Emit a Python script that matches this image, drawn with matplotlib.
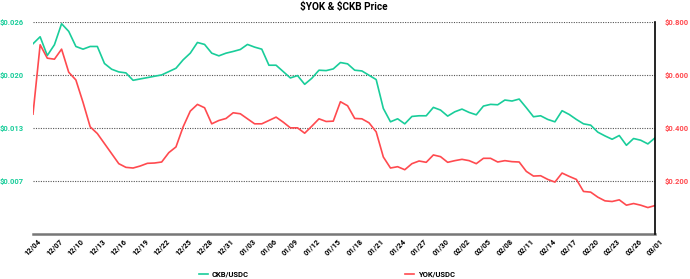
import matplotlib
matplotlib.use("Agg")
import matplotlib.pyplot as plt
import numpy as np

plt.rcParams['font.family'] = ['Roboto', 'DejaVu Sans']

tick_labels = ["12/04", "12/07", "12/10", "12/13", "12/16", "12/19", "12/22", "12/25", "12/28", "12/31",
               "01/03", "01/06", "01/09", "01/12", "01/15", "01/18", "01/21", "01/24", "01/27", "01/30",
               "02/02", "02/05", "02/08", "02/11", "02/14", "02/17", "02/20", "02/23", "02/26", "03/01"]

ckb_usdc = [0.02333, 0.02419, 0.02189, 0.02321, 0.02579, 0.02485, 0.02300, 0.02267, 0.02300, 0.02300,
            0.02091, 0.02021, 0.01988, 0.01976, 0.01885, 0.01902, 0.01918, 0.01935, 0.01951, 0.01992,
            0.02033, 0.02136, 0.02218, 0.02349, 0.02325, 0.02218, 0.02185, 0.02218, 0.02239, 0.02263,
            0.02325, 0.02292, 0.02267, 0.02070, 0.02070, 0.01992, 0.01914, 0.01943, 0.01836, 0.01910,
            0.02009, 0.02004, 0.02025, 0.02103, 0.02087, 0.02009, 0.02000, 0.01947, 0.01894, 0.01540,
            0.01376, 0.01413, 0.01351, 0.01442, 0.01450, 0.01450, 0.01553, 0.01520, 0.01446, 0.01499,
            0.01532, 0.01491, 0.01462, 0.01569, 0.01590, 0.01585, 0.01643, 0.01631, 0.01655, 0.01549,
            0.01438, 0.01450, 0.01405, 0.01376, 0.01512, 0.01466, 0.01405, 0.01351, 0.01335, 0.01249,
            0.01203, 0.01162, 0.01208, 0.01088, 0.01171, 0.01150, 0.01105, 0.01179]

yok_usdc = [0.4524, 0.7141, 0.6635, 0.6597, 0.6976, 0.6104, 0.5813, 0.4967, 0.4044, 0.3791,
            0.3412, 0.3033, 0.2654, 0.2515, 0.2490, 0.2566, 0.2667, 0.2679, 0.2717, 0.3071,
            0.3286, 0.4044, 0.4638, 0.4891, 0.4764, 0.4158, 0.4284, 0.4360, 0.4575, 0.4537,
            0.4347, 0.4158, 0.4158, 0.4284, 0.4411, 0.4221, 0.4006, 0.4006, 0.3804, 0.4069,
            0.4347, 0.4246, 0.4259, 0.4992, 0.4840, 0.4360, 0.4347, 0.4196, 0.3855, 0.2907,
            0.2490, 0.2540, 0.2426, 0.2654, 0.2755, 0.2705, 0.2983, 0.2919, 0.2705, 0.2768,
            0.2818, 0.2768, 0.2654, 0.2856, 0.2856, 0.2717, 0.2768, 0.2730, 0.2717, 0.2363,
            0.2186, 0.2199, 0.2060, 0.1959, 0.2300, 0.2174, 0.2060, 0.1605, 0.1580, 0.1390,
            0.1251, 0.1226, 0.1289, 0.1087, 0.1150, 0.1087, 0.0998, 0.1074]

left_ticks = [0.0065, 0.013, 0.0195, 0.026]
left_tick_labels = ["$0.007", "$0.013", "$0.020", "$0.026"]
right_ticks = [0.2, 0.4, 0.6, 0.8]
right_tick_labels = ["$0.200", "$0.400", "$0.600", "$0.800"]

GREEN = '#19cd9a'
RED = '#ff4a4f'

fig = plt.figure(figsize=(6.9, 2.79), dpi=100)
ax = fig.add_axes([0.0478, 0.1613, 0.9015, 0.7598])
ax2 = ax.twinx()

x = np.arange(len(ckb_usdc))
l1, = ax.plot(x, ckb_usdc, color=GREEN, lw=1.2, label='CKB/USDC')
l2, = ax2.plot(x, yok_usdc, color=RED, lw=1.2, label='YOK/USDC')

ax.set_xlim(0, len(x) - 1)
ax.set_ylim(0, 0.026)
ax2.set_ylim(0, 0.8)

ax.set_yticks(left_ticks)
ax.set_yticklabels(left_tick_labels)
ax2.set_yticks(right_ticks)
ax2.set_yticklabels(right_tick_labels)

ax.set_xticks(x[::3])
ax.set_xticklabels(tick_labels, rotation=45, ha='center')

ax.grid(axis='y', color='#555555', linestyle=(0, (1, 1.2)), linewidth=0.8)
ax.set_axisbelow(True)

for a in (ax, ax2):
    a.spines['top'].set_visible(False)
    a.spines['left'].set_visible(False)
ax.spines['right'].set_visible(False)
ax2.spines['bottom'].set_visible(False)
ax2.spines['right'].set_color('black')
ax2.spines['right'].set_linewidth(1.2)
ax.spines['bottom'].set_color('#777777')
ax.spines['bottom'].set_linewidth(1.8)

ax.tick_params(axis='y', length=0, pad=6.5, labelsize=5.5, labelcolor=GREEN)
ax2.tick_params(axis='y', length=0, pad=7, labelsize=5.5, labelcolor=RED)
ax.tick_params(axis='x', length=0, pad=2.5, labelsize=5.4)
for t in ax.get_yticklabels() + ax2.get_yticklabels() + ax.get_xticklabels():
    t.set_fontweight('bold')

fig.text(0.4985, 0.975, "\\$YOK & \\$CKB Price", ha='center', va='center',
         fontsize=7.2, fontweight='bold')

leg = fig.legend(handles=[l1, l2], loc='center', bbox_to_anchor=(327 / 690, 1 - 274 / 279),
                 ncol=2, frameon=False, handlelength=1.2, handletextpad=0.5,
                 columnspacing=20.5, prop={'size': 5.5, 'weight': 'bold'})

fig.savefig('out.png', dpi=100)
